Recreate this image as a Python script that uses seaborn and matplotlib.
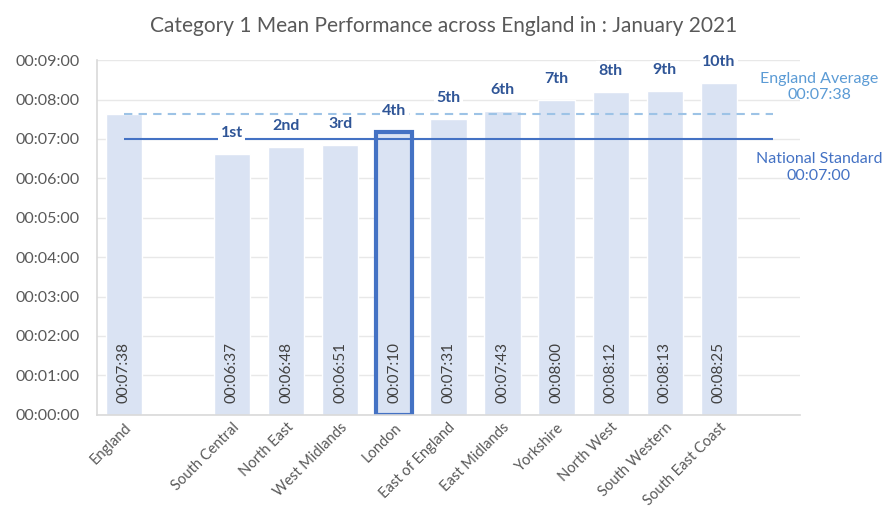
import matplotlib
matplotlib.use("Agg")
import matplotlib.pyplot as plt
import matplotlib.ticker as mticker
import seaborn as sns
import pandas as pd
import numpy as np

regions = ["England", "South Central", "North East", "West Midlands", "London",
           "East of England", "East Midlands", "Yorkshire", "North West",
           "South Western", "South East Coast"]
mean_seconds = [458, 397, 408, 411, 430, 451, 463, 480, 492, 493, 505]
ranks = ["", "1st", "2nd", "3rd", "4th", "5th", "6th", "7th", "8th", "9th", "10th"]
highlight = "London"
england_average = 458
national_standard = 420
title = "Category 1 Mean Performance across England in : January 2021"

def fmt(s):
    s = int(round(s))
    return f"{s // 3600:02d}:{(s % 3600) // 60:02d}:{s % 60:02d}"

sns.set_theme(style="white")
plt.rcParams['font.family'] = ['Lato', 'DejaVu Sans']

df = pd.DataFrame({"region": regions, "seconds": mean_seconds, "rank": ranks})
order = [regions[0], " "] + regions[1:]

fig = plt.figure(figsize=(8.87, 5.14), dpi=100)
ax = fig.add_axes([0.109, 0.193, 0.793, 0.690])

sns.barplot(data=df, x="region", y="seconds", order=order, color="#DAE3F3",
            saturation=1, width=0.67, ax=ax)

pos = {c: i for i, c in enumerate(order)}

for patch in ax.patches:
    cx = patch.get_x() + patch.get_width() / 2
    idx = int(round(cx))
    if idx < len(order) and order[idx] == highlight:
        patch.set_edgecolor("#4472C4")
        patch.set_linewidth(3)

ax.set_xlim(-0.5, len(order) + 0.5)
ax.set_ylim(0, 540)
ax.yaxis.set_major_locator(mticker.MultipleLocator(60))
ax.yaxis.set_major_formatter(mticker.FuncFormatter(lambda v, p: fmt(v)))
ax.grid(axis="y", color="#E8E8E8", linewidth=1)
ax.set_axisbelow(True)
for s in ["top", "right"]:
    ax.spines[s].set_visible(False)
for s in ["left", "bottom"]:
    ax.spines[s].set_color("#D9D9D9")
    ax.spines[s].set_linewidth(1.2)

ax.set_xlabel("")
ax.set_ylabel("")
ax.tick_params(axis="both", colors="#595959", labelsize=11.5, length=0)
ax.tick_params(axis="y", pad=12)
ax.set_xticks(range(len(order)))
ax.set_xticklabels(order, rotation=45, ha="right", rotation_mode="anchor", fontsize=10.5)
ax.tick_params(axis="x", pad=4)

n_end = len(order)
ax.hlines(england_average, 0, n_end, colors="#9DC3E6", linestyles=(0, (4, 3)), linewidth=1.5, zorder=3)
ax.hlines(national_standard, 0, n_end, colors="#4472C4", linewidth=1.5, zorder=3)

for r, v, rk in zip(regions, mean_seconds, ranks):
    x = pos[r]
    ax.text(x, 18, fmt(v), rotation=90, ha="center", va="bottom",
            fontsize=11, color="#404040", zorder=4)
    if rk:
        ax.annotate(rk, (x, v), xytext=(0, 10), textcoords="offset points",
                    ha="center", va="bottom", fontsize=11.5, fontweight="bold",
                    color="#2F5597", zorder=5,
                    bbox=dict(boxstyle="square,pad=0.15", fc="white", ec="none"))

lab_x = len(order) + 0.85
ax.text(lab_x, england_average + 41, f"England Average\n{fmt(england_average)}",
        ha="center", va="center", fontsize=11.5, color="#5B9BD5",
        linespacing=1.25, clip_on=False)
ax.text(lab_x, national_standard - 43, f"National Standard\n{fmt(national_standard)}",
        ha="center", va="center", fontsize=11.5, color="#4472C4",
        linespacing=1.25, clip_on=False)

fig.suptitle(title, y=0.968, fontsize=15, color="#595959")

fig.savefig("out.png", dpi=100)
